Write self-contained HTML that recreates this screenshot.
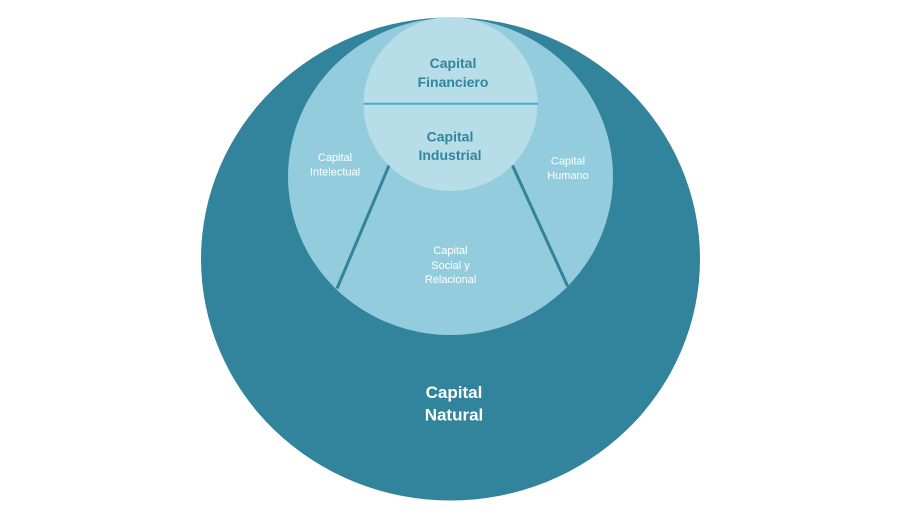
<!DOCTYPE html>
<html>
<head>
<meta charset="utf-8">
<style>
html,body{margin:0;padding:0;background:#fff;}
svg{display:block;}
text{font-family:"Liberation Sans",sans-serif;}
</style>
</head>
<body>
<svg width="907" height="515" viewBox="0 0 907 515" xmlns="http://www.w3.org/2000/svg">
  <rect width="907" height="515" fill="#ffffff"/>
  <ellipse cx="450.5" cy="259" rx="249.5" ry="241.5" fill="#31849B"/>
  <ellipse cx="450.5" cy="176.5" rx="162.5" ry="158.5" fill="#93CDDD"/>
  <line x1="389" y1="165.5" x2="337" y2="288.5" stroke="#31849B" stroke-width="3"/>
  <line x1="512.5" y1="165.5" x2="567.5" y2="286" stroke="#31849B" stroke-width="3"/>
  <ellipse cx="450.5" cy="104" rx="87" ry="87" fill="#B7DEE8"/>
  <line x1="363.5" y1="103.7" x2="538" y2="103.7" stroke="#4BACC6" stroke-width="2"/>

  <g font-weight="bold" font-size="14" fill="#31859C" text-anchor="middle" dominant-baseline="central">
    <text x="453" y="63">Capital</text>
    <text x="453" y="82">Financiero</text>
    <text x="450" y="136.5">Capital</text>
    <text x="450" y="155">Industrial</text>
  </g>

  <g font-size="11" fill="#ffffff" text-anchor="middle" dominant-baseline="central">
    <text x="335" y="158">Capital</text>
    <text x="335" y="172.5">Intelectual</text>
    <text x="568" y="161.5">Capital</text>
    <text x="568" y="176">Humano</text>
    <text x="450.5" y="251">Capital</text>
    <text x="450.5" y="266">Social y</text>
    <text x="450.5" y="280">Relacional</text>
  </g>

  <g font-weight="bold" font-size="17" fill="#ffffff" text-anchor="middle" dominant-baseline="central">
    <text x="454" y="392.5">Capital</text>
    <text x="454" y="415">Natural</text>
  </g>
</svg>
</body>
</html>
